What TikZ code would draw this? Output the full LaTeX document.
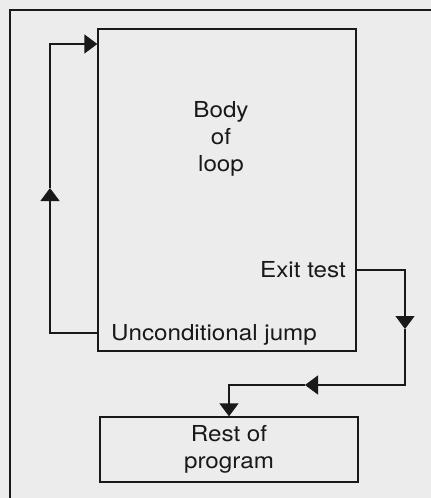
\documentclass[tikz,border=0pt]{standalone}
\usepackage{fontspec}
\setmainfont{TeX Gyre Heros}[FakeStretch=1.1]
\usetikzlibrary{arrows.meta}
\definecolor{paper}{RGB}{236,236,236}
\definecolor{ink}{RGB}{25,25,25}
\tikzset{
  box/.style={draw=ink, line width=1.3pt, rectangle, inner sep=0pt},
  lbl/.style={inner sep=0pt, font=\fontsize{22}{27}\selectfont, text=ink},
  wire/.style={draw=ink, line width=1.3pt},
  tip/.style={-{Triangle[width=19pt,length=13pt]}},
}
\begin{document}
\begin{tikzpicture}[x=1pt,y=-1pt]
\useasboundingbox (0,0) rectangle (431,498);
\fill[paper] (0,0) rectangle (431,498);
\draw[ink, line width=1.3pt] (10,520) -- (10,10) -- (450,10);
% boxes
\node[box, minimum width=258pt, minimum height=322pt] (body) at (227,190) {};
\node[box, minimum width=258pt, minimum height=65pt] (rest) at (229,449.5) {};
% texts
\node[lbl, align=center] (bodytxt) at (221,139) {Body\\of\\loop};
\node[lbl, anchor=base east] (exit) at (346,277) {Exit test};
\node[lbl, anchor=base west] (uj) at (111,340) {Unconditional jump};
\node[lbl, align=center] (resttxt) at (rest.center) {Rest of\\program};
% coordinates
\coordinate (ujl) at (body.west |- 0,333);
\coordinate (l1) at (50,333);
\coordinate (la) at (50,188);
\coordinate (l2) at (50,44);
\coordinate (lt) at (body.west |- 0,44);
\coordinate (ex) at (body.east |- 0,270);
\coordinate (r1) at (405,270);
\coordinate (ra) at (405,329);
\coordinate (r2) at (405,385);
\coordinate (ha) at (305,385);
\coordinate (r3) at (229,385);
% loop back
\draw[wire, tip] (ujl) -- (l1) -- (la);
\draw[wire, tip] (la) -- (l2) -- (lt);
% exit
\draw[wire, tip] (ex) -- (r1) -- (ra);
\draw[wire, tip] (ra) -- (r2) -- (ha);
\draw[wire, tip] (ha) -- (r3) -- (rest.north -| r3);
\end{tikzpicture}
\end{document}
